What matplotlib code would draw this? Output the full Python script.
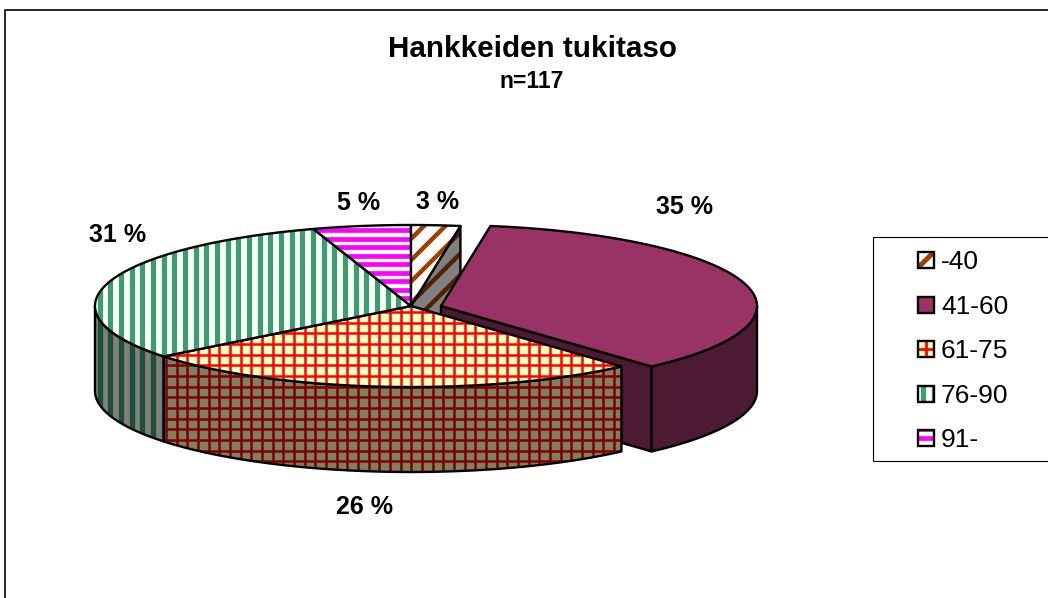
import numpy as np
import matplotlib
matplotlib.use("Agg")
import matplotlib.pyplot as plt
from matplotlib.patches import Polygon, Rectangle

plt.rcParams["font.family"] = ["Liberation Sans", "DejaVu Sans"]

categories = ["-40", "41-60", "61-75", "76-90", "91-"]
shares = [2.5, 35.9, 25.9, 30.7, 5.0]
share_labels = ["3 %", "35 %", "26 %", "31 %", "5 %"]

CX, CY, RX, RY, DEPTH = 411, 306, 316, 81, 85
EXPLODE = 30
DARK = {"-40": ("#808080", "#502000"), "61-75": ("#808060", "#800000"),
        "76-90": ("#808080", "#1E5038")}
STEP = 32 / 3

fig = plt.figure(figsize=(10.48, 5.98), dpi=100, facecolor="white")
ax = fig.add_axes((0, 0, 1, 1))
ax.set_xlim(0, 1048)
ax.set_ylim(598, 0)
ax.axis("off")

count = [1]


def next_z():
    count[0] += 1
    return count[0]


def arc(a0, a1, dx=0, dy=0):
    t = np.radians(np.linspace(a0, a1, max(3, int(abs(a1 - a0) * 2))))
    return np.column_stack((CX + dx + RX * np.sin(t), CY + dy - RY * np.cos(t)))


def stripes(patch, kind, color, width, ox=None, oy=None):
    # lines clipped to the slice, so spacing stays the same as in the source
    lines = []
    if kind == "v":
        x0 = 3.5 if ox is None else ox
        lines += [((x, 0), (x, 598)) for x in np.arange(x0, 1048, STEP)]
    if kind == "h":
        y0 = 8.2 if oy is None else oy
        lines += [((0, y), (1048, y)) for y in np.arange(y0, 598, 8.53)]
    if kind == "grid":
        x0 = 6 if ox is None else ox
        y0 = 2.5 if oy is None else oy
        lines += [((x, 0), (x, 598)) for x in np.arange(x0, 1048, STEP)]
        lines += [((0, y), (1048, y)) for y in np.arange(y0, 598, STEP)]
    if kind == "diag":
        c0 = 9.5 if ox is None else ox
        lines += [((x, 598), (x + 598, 0)) for x in np.arange(c0 - 1280, 1048, 21.33)]
    for (x0, y0), (x1, y1) in lines:
        ln, = ax.plot([x0, x1], [y0, y1], color=color, lw=width, solid_capstyle="butt", zorder=patch.get_zorder())
        ln.set_clip_path(patch)


def face(points, bg, kind=None, color=None, width=2.0):
    patch = Polygon(points, closed=True, facecolor=bg, edgecolor="none", zorder=next_z())
    ax.add_patch(patch)
    if kind:
        stripes(patch, kind, color, width)
    ax.add_patch(Polygon(points, closed=True, fill=False, edgecolor="black", lw=1.7,
                         joinstyle="round", zorder=next_z()))


edges = np.cumsum([0] + shares) * 3.6
a = dict(zip(categories, zip(edges[:-1], edges[1:])))
apex = np.array([[CX, CY]])
down = np.array([0, DEPTH])

# chart area frame
ax.plot([4.5, 4.5, 1048], [598, 9.5, 9.5], color="black", lw=1.2)

# cut face of the first slice, seen because the next slice is pulled out
p = arc(a["-40"][1], a["-40"][1])[:1]
face(np.vstack((apex, p, p + down, apex + down)), DARK["-40"][0], "diag", DARK["-40"][1], 3.2)

# pulled out slice: cut face, rim, top
s, e = a["41-60"]
off = np.array([EXPLODE, 0])
tip = arc(e, e, EXPLODE)[:1]
face(np.vstack((apex + off, tip, tip + down, apex + off + down)), "#4D1A33")
rim = arc(90, e, EXPLODE)
face(np.vstack((rim, (rim + down)[::-1])), "#4D1A33")
face(np.vstack((apex + off, arc(s, e, EXPLODE))), "#993366")

# 61-75
s, e = a["61-75"]
rim = arc(s, e)
face(np.vstack((rim, (rim + down)[::-1])), DARK["61-75"][0], "grid", DARK["61-75"][1], 1.8)
face(np.vstack((apex, rim)), "#FFFFC0", "grid", "#FF0000", 1.8)

# 76-90
s, e = a["76-90"]
rim = arc(s, 270)
face(np.vstack((rim, (rim + down)[::-1])), DARK["76-90"][0], "v", DARK["76-90"][1], 3.8)
face(np.vstack((apex, arc(s, e))), "white", "v", "#3A9E6E", 3.8)

# 91-
s, e = a["91-"]
face(np.vstack((apex, arc(s, e))), "white", "h", "#FF00FF", 3.4)

# -40 top
s, e = a["-40"]
face(np.vstack((apex, arc(s, e))), "white", "diag", "#A04000", 3.2)

ax.text(532, 49, "Hankkeiden tukitaso", ha="center", va="center", fontsize=21.3, fontweight="bold")
ax.text(531.5, 81, "n=117", ha="center", va="center", fontsize=16.5, fontweight="bold")

label_pos = [(438, 202), (684, 207), (365, 507), (118, 235), (359, 203)]
for (x, y), txt in zip(label_pos, share_labels):
    ax.text(x, y, txt, ha="center", va="center", fontsize=18, fontweight="bold")

# legend
ax.add_patch(Rectangle((872.5, 236.5), 190, 224, facecolor="white", edgecolor="black", lw=0.8, zorder=100))
key_kind = [("diag", "#A04000", 3.6, "white"), (None, None, 0, "#993366"),
            ("grid", "#FF0000", 2.0, "#FFFFC0"), ("v", "#3A9E6E", 3.8, "white"),
            ("h", "#FF00FF", 3.4, "white")]
key_y = [260, 305, 349, 394, 438]
for name, y, (kind, col, w, bg) in zip(categories, key_y, key_kind):
    box = Rectangle((918, y - 8), 16, 16, facecolor=bg, edgecolor="none", zorder=101)
    ax.add_patch(box)
    if kind == "diag":
        # one band through the middle of the key
        stripes(box, kind, col, w, ox=926 + y - 598)
    elif kind == "v":
        stripes(box, kind, col, w, ox=923)
    elif kind == "h":
        stripes(box, kind, col, w, oy=y - 85.3)
    elif kind:
        stripes(box, kind, col, w, ox=926, oy=y - 85.33)
    ax.add_patch(Rectangle((918, y - 8), 16, 16, fill=False, edgecolor="black", lw=1.7, zorder=102))
    ax.text(941, y + 2, name, ha="left", va="center", fontsize=19, zorder=103)

fig.savefig("out.png", dpi=100, facecolor="white")
plt.close(fig)
